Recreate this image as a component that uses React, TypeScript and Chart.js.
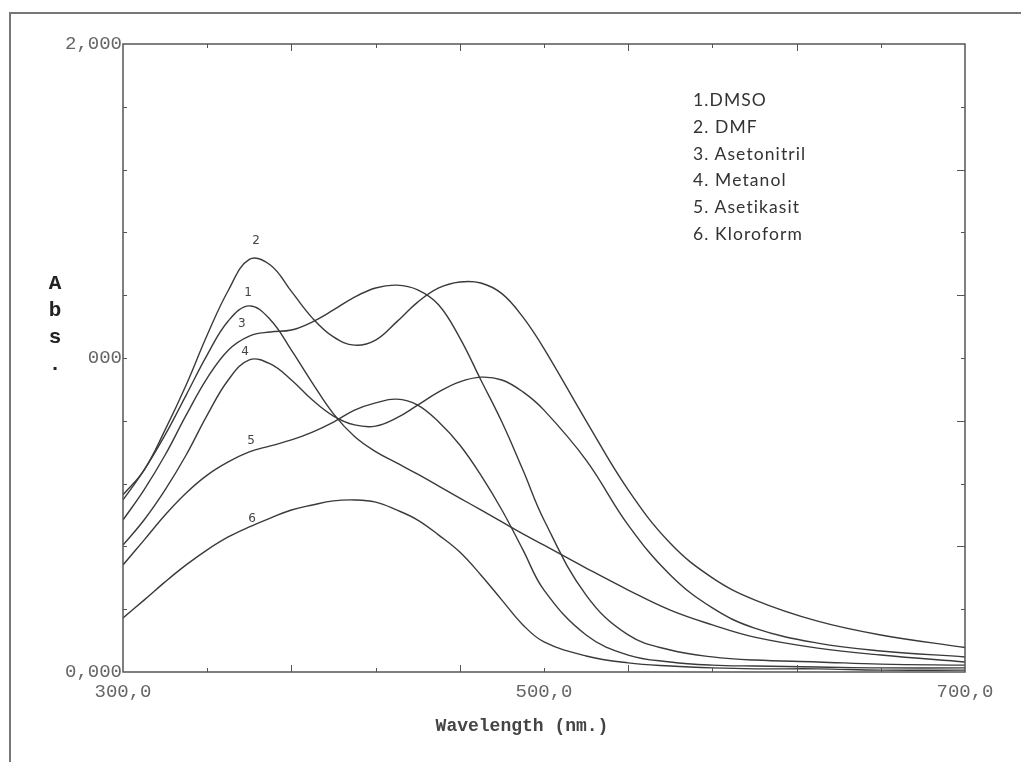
import React, { useEffect, useRef } from "react";
import { Chart, registerables } from "chart.js";

Chart.register(...registerables);

// ---- data ----
const wavelengths = [300, 310, 320, 330, 340, 350, 360, 370, 380, 390, 400, 410, 420, 430, 440, 450, 460, 470, 480, 490, 500, 520, 540, 560, 580, 600, 630, 660, 700];
const dmso = [548, 643, 755, 882, 1010, 1118, 1166, 1122, 1025, 920, 822, 750, 702, 666, 630, 592, 554, 516, 478, 440, 404, 331, 261, 197, 150, 111, 76, 54, 32];
const dmf = [564, 643, 771, 914, 1073, 1215, 1314, 1296, 1212, 1127, 1067, 1041, 1057, 1115, 1178, 1223, 1242, 1239, 1205, 1130, 1030, 800, 580, 410, 300, 230, 162, 118, 78];
const asetonitril = [484, 580, 691, 818, 936, 1025, 1070, 1083, 1089, 1115, 1153, 1194, 1223, 1232, 1217, 1169, 1064, 930, 796, 643, 484, 245, 118, 70, 48, 38, 32, 25, 22];
const metanol = [404, 484, 580, 691, 818, 930, 994, 981, 930, 866, 815, 787, 783, 809, 850, 892, 924, 939, 930, 892, 834, 675, 468, 309, 204, 140, 92, 67, 48];
const asetikasit = [341, 420, 500, 570, 627, 669, 701, 720, 739, 764, 796, 834, 857, 869, 850, 796, 723, 627, 516, 389, 261, 118, 54, 32, 22, 19, 16, 13, 13];
const kloroform = [172, 229, 287, 341, 389, 430, 462, 490, 516, 532, 545, 548, 541, 516, 484, 436, 382, 309, 229, 150, 96, 51, 29, 19, 13, 10, 10, 6, 6];

const seriesValues = [dmso, dmf, asetonitril, metanol, asetikasit, kloroform];
const legendLines = ["1.DMSO", "2. DMF", "3. Asetonitril", "4. Metanol", "5. Asetikasit", "6. Kloroform"];

const xTickValues = [300, 500, 700];
const xTickLabels = ["300,0", "500,0", "700,0"];
const yTickValues = [0, 1000, 2000];
const yTickLabels = ["0,000", "000", "2,000"];
const xMinorTicks = [340, 380, 420, 460, 500, 540, 580, 620, 660];
const yMinorTicks = [200, 400, 600, 800, 1000, 1200, 1400, 1600, 1800];

const curveLabelTexts = ["2", "1", "3", "4", "5", "6"];
const curveLabelX = [363.2, 359.4, 356.5, 358, 360.8, 361.3];
const curveLabelY = [1373, 1207, 1108, 1019, 736, 488];

const yAxisTitle = ["A", "b", "s", "."];
const xAxisTitle = "Wavelength (nm.)";

const decorPlugin = {
  id: "decor",
  afterDatasetsDraw(chart: any) {
    const { ctx, chartArea: a, scales } = chart;
    const xs = scales.x;
    const ys = scales.y;
    ctx.save();
    ctx.strokeStyle = "#555";
    ctx.lineWidth = 1.5;
    ctx.strokeRect(a.left, a.top, a.right - a.left, a.bottom - a.top);
    ctx.lineWidth = 1;
    ctx.strokeStyle = "#555";
    xMinorTicks.forEach((v, i) => {
      const px = Math.round(xs.getPixelForValue(v)) + 0.5;
      const len = i % 2 === 1 ? 7 : 4;
      ctx.beginPath();
      ctx.moveTo(px, a.bottom);
      ctx.lineTo(px, a.bottom - len);
      ctx.moveTo(px, a.top);
      ctx.lineTo(px, a.top + len);
      ctx.stroke();
    });
    yMinorTicks.forEach((v) => {
      const py = Math.round(ys.getPixelForValue(v)) + 0.5;
      const lenR = v % 400 === 0 ? 8 : 4;
      ctx.beginPath();
      ctx.moveTo(a.left, py);
      ctx.lineTo(a.left + 4, py);
      ctx.moveTo(a.right, py);
      ctx.lineTo(a.right - lenR, py);
      ctx.stroke();
    });
    ctx.fillStyle = "#444";
    ctx.font = "12px 'DejaVu Sans'";
    ctx.textAlign = "center";
    ctx.textBaseline = "middle";
    curveLabelTexts.forEach((t, i) => {
      ctx.fillText(t, xs.getPixelForValue(curveLabelX[i]), ys.getPixelForValue(curveLabelY[i]));
    });
    ctx.restore();
  },
};

export default function App() {
  const canvasRef = useRef<HTMLCanvasElement | null>(null);

  useEffect(() => {
    if (!canvasRef.current) return;
    const datasets = seriesValues.map((vals, si) => ({
      label: legendLines[si],
      data: wavelengths.map((w, i) => ({ x: w, y: vals[i] })),
      borderColor: "#3a3a3a",
      borderWidth: 1.4,
      pointRadius: 0,
      fill: false,
      tension: 0.4,
    }));
    const chart = new Chart(canvasRef.current, {
      type: "line",
      data: { datasets },
      plugins: [decorPlugin],
      options: {
        animation: false,
        responsive: false,
        devicePixelRatio: 1,
        layout: { padding: { left: 0, top: 44, right: 56, bottom: 0 } },
        plugins: { legend: { display: false }, tooltip: { enabled: false } },
        scales: {
          x: {
            type: "linear",
            min: 300,
            max: 700,
            grid: { display: false, drawTicks: false, tickLength: 0 },
            border: { display: false },
            afterBuildTicks: (scale: any) => {
              scale.ticks = xTickValues.map((v) => ({ value: v }));
            },
            afterFit: (scale: any) => {
              scale.height = 90;
            },
            ticks: {
              autoSkip: false,
              maxRotation: 0,
              padding: 9,
              color: "#666",
              font: { family: "'Liberation Mono', 'DejaVu Sans Mono', monospace", size: 19 },
              callback: (_v: any, i: number) => xTickLabels[i],
            },
          },
          y: {
            type: "linear",
            min: 0,
            max: 2000,
            grid: { display: false, drawTicks: false, tickLength: 0 },
            border: { display: false },
            afterBuildTicks: (scale: any) => {
              scale.ticks = yTickValues.map((v) => ({ value: v }));
            },
            afterFit: (scale: any) => {
              scale.width = 123;
            },
            ticks: {
              autoSkip: false,
              padding: 1,
              color: "#666",
              font: { family: "'Liberation Mono', 'DejaVu Sans Mono', monospace", size: 19 },
              callback: (_v: any, i: number) => yTickLabels[i],
            },
          },
        },
      },
    });
    return () => chart.destroy();
  }, []);

  return (
    <div style={{ position: "absolute", left: 0, top: 0, width: 1021, height: 762, background: "#fff", overflow: "hidden" }}>
      <canvas ref={canvasRef} width={1021} height={762} style={{ display: "block", width: 1021, height: 762 }} />
      <div
        style={{
          position: "absolute",
          left: 9,
          top: 12,
          width: 1021,
          height: 762,
          borderTop: "2px solid #777",
          borderLeft: "2px solid #777",
          pointerEvents: "none",
        }}
      />
      {yAxisTitle.map((ch, i) => (
        <div
          key={i}
          style={{
            position: "absolute",
            left: 40,
            width: 30,
            top: 270 + i * 27,
            height: 27,
            lineHeight: "27px",
            textAlign: "center",
            fontFamily: "'Liberation Mono', 'DejaVu Sans Mono', monospace",
            fontWeight: "bold",
            fontSize: 21,
            color: "#222",
          }}
        >
          {ch}
        </div>
      ))}
      <div
        style={{
          position: "absolute",
          left: 322,
          width: 400,
          top: 714,
          height: 24,
          lineHeight: "24px",
          textAlign: "center",
          fontFamily: "'Liberation Mono', 'DejaVu Sans Mono', monospace",
          fontWeight: "bold",
          fontSize: 18,
          color: "#444",
          whiteSpace: "pre",
        }}
      >
        {xAxisTitle}
      </div>
      <div style={{ position: "absolute", left: 693, top: 87 }}>
        {legendLines.map((t, i) => (
          <div
            key={i}
            style={{
              height: 26.8,
              lineHeight: "26.8px",
              fontFamily: "Lato, 'Open Sans', sans-serif",
              fontSize: 17.5,
              letterSpacing: 1.1,
              color: "#333",
              whiteSpace: "pre",
            }}
          >
            {t}
          </div>
        ))}
      </div>
    </div>
  );
}
